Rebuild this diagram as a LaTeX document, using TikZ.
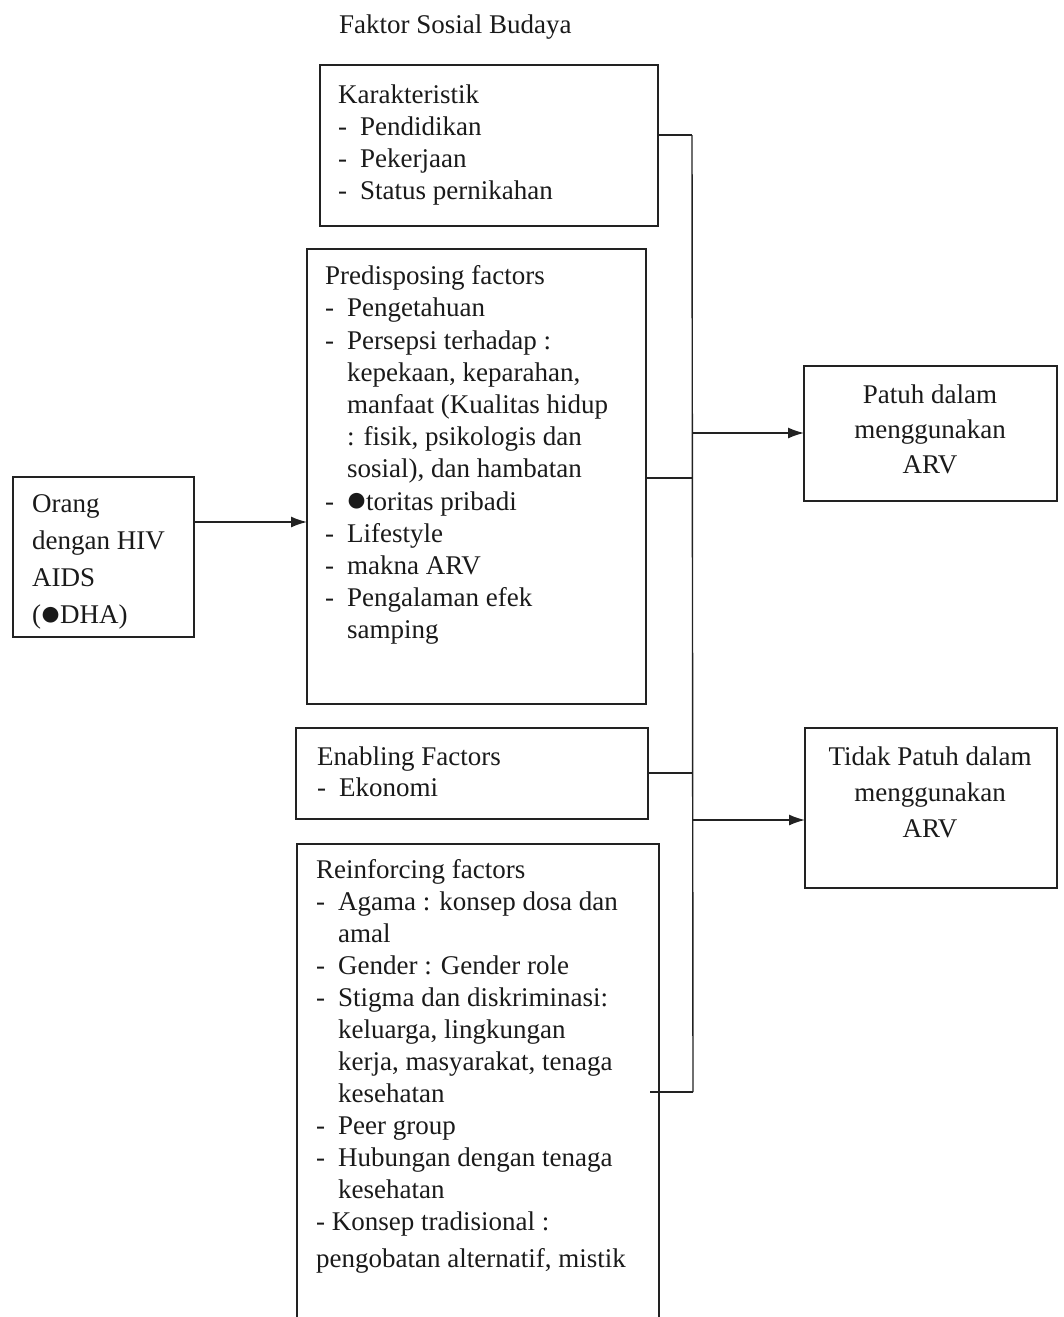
\documentclass[tikz,border=0pt]{standalone}
\usepackage{fontspec}
\setmainfont{Liberation Serif}
\usetikzlibrary{arrows.meta}
\definecolor{lc}{HTML}{222222}
\definecolor{tc}{HTML}{1A1A1A}
\newcommand\itm[1]{\makebox[22pt][l]{-}#1}
\newcommand\cnt{\hspace*{22pt}}
\newcommand\bdot{\makebox[19pt]{\raisebox{-1.5pt}{\scalebox{1.35}{●}}}}
\begin{document}
\begin{tikzpicture}[x=1pt,y=-1pt,
  box/.style={draw=lc, line width=1.4pt, rectangle, inner sep=0pt, outer sep=0pt, anchor=north west},
  txt/.style={anchor=north west, inner sep=0pt, align=left, text=tc},
  ctxt/.style={anchor=north, inner sep=0pt, align=center, text=tc},
  conn/.style={draw=lc, line width=1.4pt},
  arr/.style={conn, -{Latex[length=16pt,width=11pt]}}]
\useasboundingbox (0,0) rectangle (1064,1317);
% boxes
\node[box, minimum width=338pt, minimum height=161pt] (kar) at (320,65) {};
\node[box, minimum width=339pt, minimum height=455pt] (pre) at (307,249) {};
\node[box, minimum width=181pt, minimum height=160pt] (orang) at (13,477) {};
\node[box, minimum width=352pt, minimum height=91pt] (ena) at (296,728) {};
\node[box, minimum width=362pt, minimum height=490pt] (rei) at (297,844) {};
\node[box, minimum width=253pt, minimum height=135pt] (patuh) at (804,366) {};
\node[box, minimum width=252pt, minimum height=160pt] (tidak) at (805,728) {};
% texts
\node[txt, font=\fontsize{27}{32}\selectfont] (title) at (339,14.5) {Faktor Sosial Budaya};
\node[txt, font=\fontsize{27}{32}\selectfont] (kartxt) at (338,84.5) {Karakteristik\\
\itm{Pendidikan}\\
\itm{Pekerjaan}\\
\itm{Status pernikahan}};
\node[txt, font=\fontsize{27}{32.2}\selectfont] (pretxt) at (325,265.5) {Predisposing factors\\
\itm{Pengetahuan}\\
\itm{Persepsi terhadap :}\\
\cnt kepekaan, keparahan,\\
\cnt manfaat (Kualitas hidup\\
\cnt : fisik, psikologis dan\\
\cnt sosial), dan hambatan\\
\itm{\bdot toritas pribadi}\\
\itm{Lifestyle}\\
\itm{makna ARV}\\
\itm{Pengalaman efek}\\
\cnt samping};
\node[txt, font=\fontsize{27}{37}\selectfont] (oratxt) at (32,494.5) {Orang\\
dengan HIV\\
AIDS\\
(\bdot DHA)};
\node[txt, font=\fontsize{27}{31}\selectfont] (enatxt) at (317,746.5) {Enabling Factors\\
\itm{Ekonomi}};
\node[txt, font=\fontsize{27}{32}\selectfont] (reitxt) at (316,859.5) {Reinforcing factors\\
\itm{Agama : konsep dosa dan}\\
\cnt amal\\
\itm{Gender : Gender role}\\
\itm{Stigma dan diskriminasi:}\\
\cnt keluarga, lingkungan\\
\cnt kerja, masyarakat, tenaga\\
\cnt kesehatan\\
\itm{Peer group}\\
\itm{Hubungan dengan tenaga}\\
\cnt kesehatan\\
- Konsep tradisional :\\[5pt]
pengobatan alternatif, mistik};
\node[ctxt, font=\fontsize{27}{35}\selectfont] (patuhtxt) at (930,384.5) {Patuh dalam\\
menggunakan\\
ARV};
\node[ctxt, font=\fontsize{27}{36}\selectfont] (tidaktxt) at (930,746.5) {Tidak Patuh dalam\\
menggunakan\\
ARV};
% bus
\coordinate (bt) at (692,135);
\coordinate (j2) at (692,478);
\coordinate (j3) at (692,773);
\coordinate (bb) at (693,1092);
\coordinate (a1) at (692,433);
\coordinate (a2) at (692,820);
\coordinate (ar) at (250,522);
\draw[conn] (bt) -- (bb);
\draw[conn] (kar.east |- bt) -- (bt);
\draw[conn] (pre.east |- j2) -- (j2);
\draw[conn] (ena.east |- j3) -- (j3);
\draw[conn] ([xshift=-9pt]rei.east |- bb) -- (bb);
\draw[arr] (a1) -- (patuh.west |- a1);
\draw[arr] (a2) -- (tidak.west |- a2);
\draw[arr] (orang.east |- ar) -- (pre.west |- ar);
\end{tikzpicture}
\end{document}
